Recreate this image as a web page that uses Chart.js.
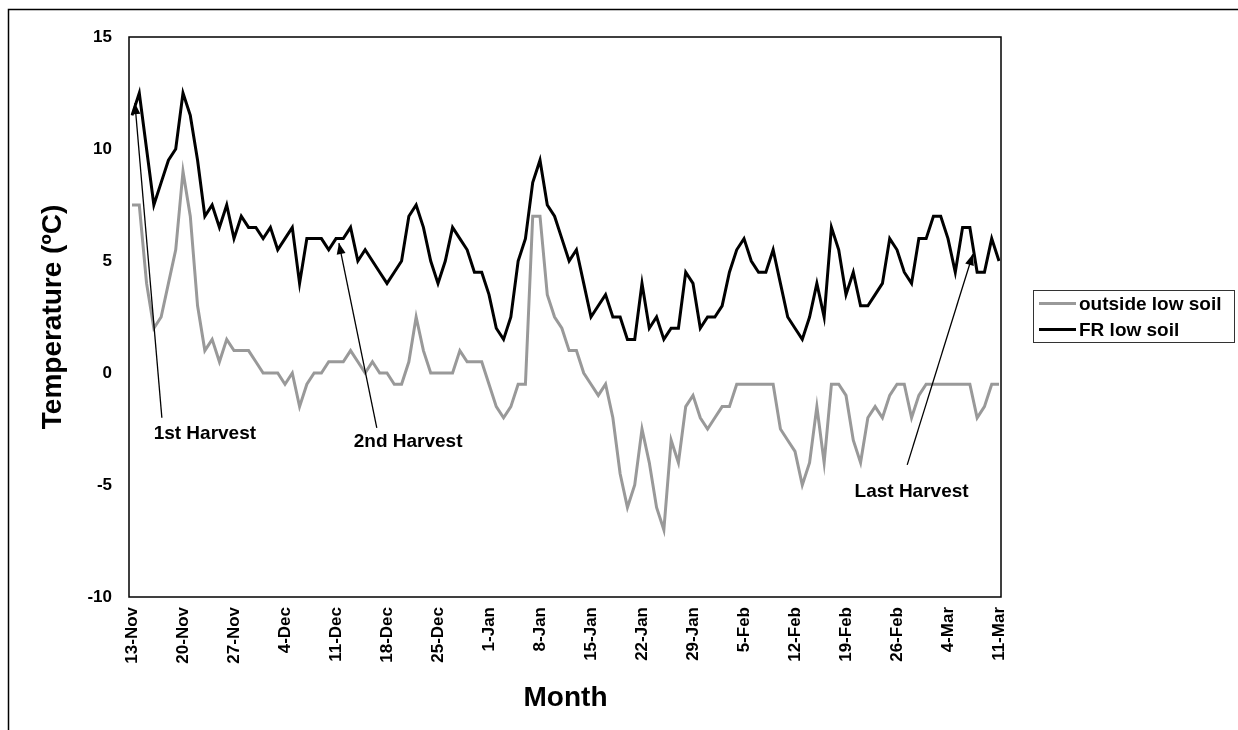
<!DOCTYPE html>
<html>
<head>
<meta charset="utf-8">
<script src="https://cdn.jsdelivr.net/npm/chart.js@4.4.0/dist/chart.umd.min.js"></script>
<style>
  html, body { margin: 0; padding: 0; background: #fff; }
  #wrap { position: relative; width: 1238px; height: 730px; }
</style>
</head>
<body>
<div id="wrap"><canvas id="lineChart" width="1238" height="730"></canvas></div>
<script>
// daily soil temperatures, 13-Nov to 11-Mar
const seriesNames = ['outside low soil', 'FR low soil'];

const outsideLowSoil = [
  7.5, 7.5, 4, 2, 2.5, 4, 5.5, 9, 7, 3,
  1, 1.5, 0.5, 1.5, 1, 1, 1, 0.5, 0, 0,
  0, -0.5, 0, -1.5, -0.5, 0, 0, 0.5, 0.5, 0.5,
  1, 0.5, 0, 0.5, 0, 0, -0.5, -0.5, 0.5, 2.5,
  1, 0, 0, 0, 0, 1, 0.5, 0.5, 0.5, -0.5,
  -1.5, -2, -1.5, -0.5, -0.5, 7, 7, 3.5, 2.5, 2,
  1, 1, 0, -0.5, -1, -0.5, -2, -4.5, -6, -5,
  -2.5, -4, -6, -7, -3, -4, -1.5, -1, -2, -2.5,
  -2, -1.5, -1.5, -0.5, -0.5, -0.5, -0.5, -0.5, -0.5, -2.5,
  -3, -3.5, -5, -4, -1.5, -4, -0.5, -0.5, -1, -3,
  -4, -2, -1.5, -2, -1, -0.5, -0.5, -2, -1, -0.5,
  -0.5, -0.5, -0.5, -0.5, -0.5, -0.5, -2, -1.5, -0.5, -0.5
];

const frLowSoil = [
  11.5, 12.5, 10, 7.5, 8.5, 9.5, 10, 12.5, 11.5, 9.5,
  7, 7.5, 6.5, 7.5, 6, 7, 6.5, 6.5, 6, 6.5,
  5.5, 6, 6.5, 4, 6, 6, 6, 5.5, 6, 6,
  6.5, 5, 5.5, 5, 4.5, 4, 4.5, 5, 7, 7.5,
  6.5, 5, 4, 5, 6.5, 6, 5.5, 4.5, 4.5, 3.5,
  2, 1.5, 2.5, 5, 6, 8.5, 9.5, 7.5, 7, 6,
  5, 5.5, 4, 2.5, 3, 3.5, 2.5, 2.5, 1.5, 1.5,
  4, 2, 2.5, 1.5, 2, 2, 4.5, 4, 2, 2.5,
  2.5, 3, 4.5, 5.5, 6, 5, 4.5, 4.5, 5.5, 4,
  2.5, 2, 1.5, 2.5, 4, 2.5, 6.5, 5.5, 3.5, 4.5,
  3, 3, 3.5, 4, 6, 5.5, 4.5, 4, 6, 6,
  7, 7, 6, 4.5, 6.5, 6.5, 4.5, 4.5, 6, 5
];

const tickLabels = [
  '13-Nov', '20-Nov', '27-Nov', '4-Dec', '11-Dec', '18-Dec', '25-Dec', '1-Jan', '8-Jan',
  '15-Jan', '22-Jan', '29-Jan', '5-Feb', '12-Feb', '19-Feb', '26-Feb', '4-Mar', '11-Mar'
];

// one category per day (the winter runs through a 29-Feb)
const monthNames = ['Jan', 'Feb', 'Mar', 'Apr', 'May', 'Jun', 'Jul', 'Aug', 'Sep', 'Oct', 'Nov', 'Dec'];
const days = [];
for (let d = new Date(2007, 10, 13); days.length < frLowSoil.length; d.setDate(d.getDate() + 1)) {
  days.push(d.getDate() + '-' + monthNames[d.getMonth()]);
}

const harvests = [
  { text: '1st Harvest', tip: [0.4, 12.05], tail: [4.1, -2.0], label: [10, -2.7] },
  { text: '2nd Harvest', tip: [28.4, 5.8], tail: [33.6, -2.45], label: [37.9, -3.05] },
  { text: 'Last Harvest', tip: [115.4, 5.3], tail: [106.4, -4.1], label: [107.0, -5.3] }
];

const FONT = "'Liberation Sans', Arial, sans-serif";

const extras = {
  id: 'extras',
  afterDraw(chart) {
    const { ctx, chartArea: a, scales: { x, y } } = chart;
    ctx.save();

    // outer frame
    ctx.strokeStyle = '#000';
    ctx.lineWidth = 1.5;
    ctx.beginPath();
    ctx.moveTo(8.5, 740);
    ctx.lineTo(8.5, 9.5);
    ctx.lineTo(1240, 9.5);
    ctx.stroke();

    // plot box, a little wider than the first and last day
    ctx.lineWidth = 1.5;
    ctx.strokeRect(a.left - 3, a.top, a.right - a.left + 5, a.bottom - a.top);

    // harvest arrows
    ctx.lineWidth = 1.3;
    ctx.fillStyle = '#000';
    ctx.font = 'bold 19px ' + FONT;
    ctx.textAlign = 'center';
    ctx.textBaseline = 'middle';
    harvests.forEach(h => {
      const tx = x.getPixelForValue(h.tip[0]), ty = y.getPixelForValue(h.tip[1]);
      const sx = x.getPixelForValue(h.tail[0]), sy = y.getPixelForValue(h.tail[1]);
      const ang = Math.atan2(ty - sy, tx - sx);
      ctx.beginPath();
      ctx.moveTo(sx, sy);
      ctx.lineTo(tx, ty);
      ctx.stroke();
      ctx.beginPath();
      ctx.moveTo(tx, ty);
      ctx.lineTo(tx - 11 * Math.cos(ang) + 4.5 * Math.sin(ang), ty - 11 * Math.sin(ang) - 4.5 * Math.cos(ang));
      ctx.lineTo(tx - 11 * Math.cos(ang) - 4.5 * Math.sin(ang), ty - 11 * Math.sin(ang) + 4.5 * Math.cos(ang));
      ctx.closePath();
      ctx.fill();
      ctx.fillText(h.text, x.getPixelForValue(h.label[0]), y.getPixelForValue(h.label[1]));
    });

    // legend
    ctx.strokeStyle = '#333';
    ctx.lineWidth = 1;
    ctx.strokeRect(1033.5, 290.5, 201, 52);
    ctx.textAlign = 'left';
    chart.data.datasets.forEach((ds, i) => {
      const ly = 303.5 + i * 26;
      ctx.strokeStyle = ds.borderColor;
      ctx.lineWidth = 3;
      ctx.beginPath();
      ctx.moveTo(1039, ly);
      ctx.lineTo(1076, ly);
      ctx.stroke();
      ctx.fillStyle = '#000';
      ctx.fillText(ds.label, 1079, ly + 1);
    });
    ctx.restore();
  }
};

new Chart(document.getElementById('lineChart'), {
  type: 'line',
  data: {
    labels: days,
    datasets: [{
      label: seriesNames[0],
      data: outsideLowSoil,
      borderColor: '#999999',
      borderWidth: 3,
      pointRadius: 0,
      tension: 0
    }, {
      label: seriesNames[1],
      data: frLowSoil,
      borderColor: '#000000',
      borderWidth: 3,
      pointRadius: 0,
      tension: 0
    }]
  },
  options: {
    responsive: false,
    animation: false,
    devicePixelRatio: 1,
    layout: { padding: { left: 0, top: 37, right: 239, bottom: 0 } },
    plugins: {
      legend: { display: false },
      tooltip: { enabled: false }
    },
    scales: {
      x: {
        offset: false,
        grid: { display: false, drawTicks: false },
        border: { display: false },
        ticks: {
          autoSkip: false,
          minRotation: 90,
          maxRotation: 90,
          padding: 10,
          color: '#000',
          font: { family: FONT, size: 17, weight: 'bold' },
          callback: (v, i) => tickLabels.includes(days[i]) ? days[i] : null
        },
        title: {
          display: true,
          text: 'Month',
          color: '#000',
          padding: { top: 0, bottom: 15 },
          font: { family: FONT, size: 28, weight: 'bold' }
        },
        afterFit: s => { s.height = 133; s.paddingLeft = 0; s.paddingRight = 0; }
      },
      y: {
        min: -10,
        max: 15,
        grid: { display: false, drawTicks: false },
        border: { display: false },
        ticks: {
          stepSize: 5,
          padding: 20,
          color: '#000',
          font: { family: FONT, size: 17, weight: 'bold' }
        },
        title: {
          display: true,
          text: 'Temperature (ºC)',
          color: '#000',
          padding: { top: 36, bottom: 0 },
          font: { family: FONT, size: 28, weight: 'bold' }
        },
        afterFit: s => { s.width = 132; s.paddingTop = 0; s.paddingBottom = 0; }
      }
    }
  },
  plugins: [extras]
});
</script>
</body>
</html>
